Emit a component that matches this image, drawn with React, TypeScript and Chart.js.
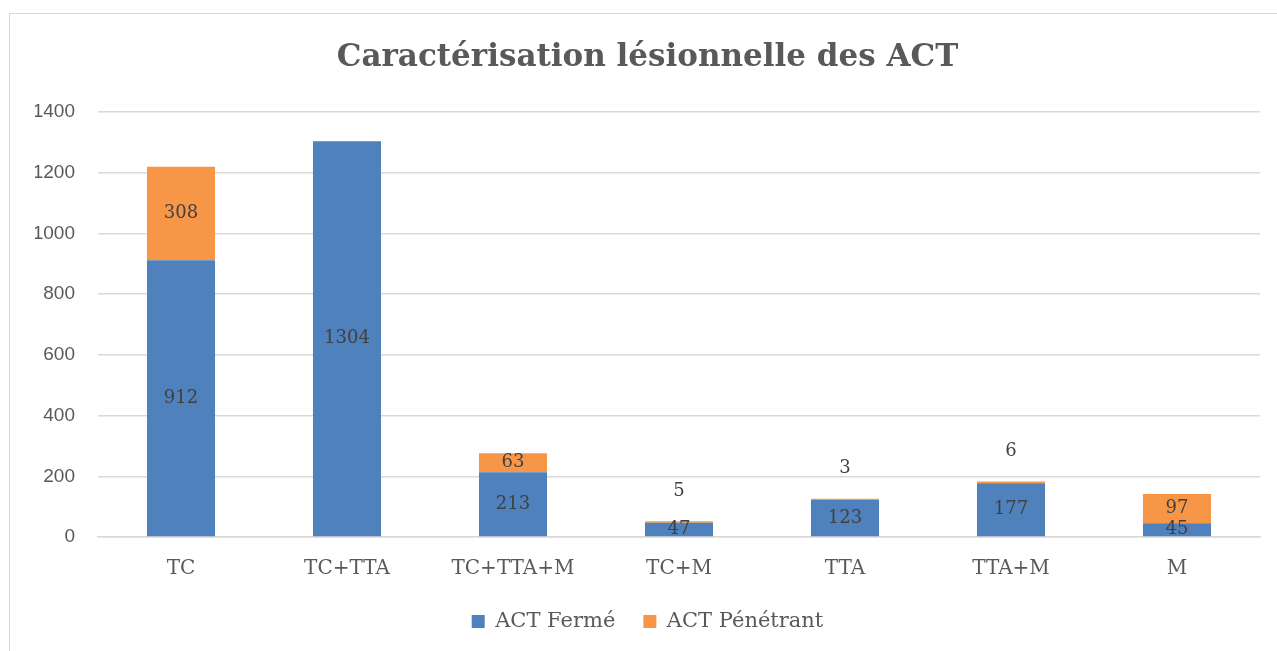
import React, { useEffect, useRef } from "react";
import { Chart, registerables } from "chart.js";

Chart.register(...registerables);

const categories = ["TC", "TC+TTA", "TC+TTA+M", "TC+M", "TTA", "TTA+M", "M"];
const actFerme = [912, 1304, 213, 47, 123, 177, 45];
const actPenetrant = [308, 0, 63, 5, 3, 6, 97];
const yTicks = [0, 200, 400, 600, 800, 1000, 1200, 1400];
const titleText = "Caractérisation lésionnelle des ACT";
const seriesNames = ["ACT Fermé", "ACT Pénétrant"];

const labelPlugin = {
  id: "segLabels",
  afterDatasetsDraw(chart: any) {
    const ctx = chart.ctx;
    ctx.save();
    ctx.font = "18px 'DejaVu Serif'";
    ctx.fillStyle = "#404040";
    ctx.textAlign = "center";
    ctx.textBaseline = "middle";
    chart.data.datasets.forEach((ds: any, di: number) => {
      const meta = chart.getDatasetMeta(di);
      meta.data.forEach((el: any, i: number) => {
        const v = ds.data[i];
        if (!v) return;
        const top = Math.min(el.y, el.base);
        const bottom = Math.max(el.y, el.base);
        const h = bottom - top;
        let y = (top + bottom) / 2;
        if (h < 10 && di === 1) y = top - 30;
        ctx.fillText(String(v), el.x, y);
      });
    });
    ctx.restore();
  },
};

export default function App() {
  const ref = useRef<HTMLCanvasElement>(null);
  useEffect(() => {
    if (!ref.current) return;
    const chart = new Chart(ref.current, {
      type: "bar",
      data: {
        labels: categories,
        datasets: [
          { label: seriesNames[0], data: actFerme, backgroundColor: "#4F81BD" },
          { label: seriesNames[1], data: actPenetrant, backgroundColor: "#F79646" },
        ],
      },
      options: {
        responsive: false,
        animation: false,
        layout: { padding: { left: 25, right: 17, top: 0, bottom: 9 } },
        plugins: {
          title: {
            display: true,
            text: titleText,
            color: "#595959",
            font: { family: "'DejaVu Serif'", size: 31, weight: "bold", lineHeight: 1.2 },
            padding: { top: 25, bottom: 35.8 },
          },
          legend: {
            position: "bottom",
            labels: {
              color: "#595959",
              font: { family: "'DejaVu Serif'", size: 21 },
              boxWidth: 13,
              boxHeight: 13,
              padding: 28,
            },
          },
          tooltip: { enabled: false },
        },
        scales: {
          x: {
            stacked: true,
            grid: { display: false, drawTicks: false },
            border: { display: true, color: "#d9d9d9", width: 1.5 },
            ticks: {
              color: "#595959",
              font: { family: "'DejaVu Serif'", size: 20, lineHeight: 1.2 },
              padding: 20,
            },
            afterFit: (scale: any) => {
              scale.height = 46;
            },
          },
          y: {
            stacked: true,
            min: 0,
            max: 1400,
            afterBuildTicks: (scale: any) => {
              scale.ticks = yTicks.map((v) => ({ value: v }));
            },
            afterFit: (scale: any) => {
              scale.width = 63;
            },
            grid: { color: "#d9d9d9", lineWidth: 1.5, drawTicks: false },
            border: { display: false },
            ticks: {
              color: "#595959",
              font: { family: "'Liberation Sans'", size: 19 },
              padding: 23,
              callback: (v: any) => String(v),
            },
          },
        },
        datasets: {
          bar: { categoryPercentage: 1, barPercentage: 0.41 },
        },
      } as any,
      plugins: [labelPlugin],
    });
    return () => chart.destroy();
  }, []);

  return (
    <div
      style={{
        position: "fixed",
        left: 9,
        top: 13,
        width: 1300,
        height: 700,
        border: "1px solid #d9d9d9",
        boxSizing: "border-box",
        background: "#fff",
      }}
    >
      <canvas
        ref={ref}
        width={1267}
        height={637}
        style={{ position: "absolute", left: 0, top: 0, width: 1267, height: 637 }}
      />
    </div>
  );
}
